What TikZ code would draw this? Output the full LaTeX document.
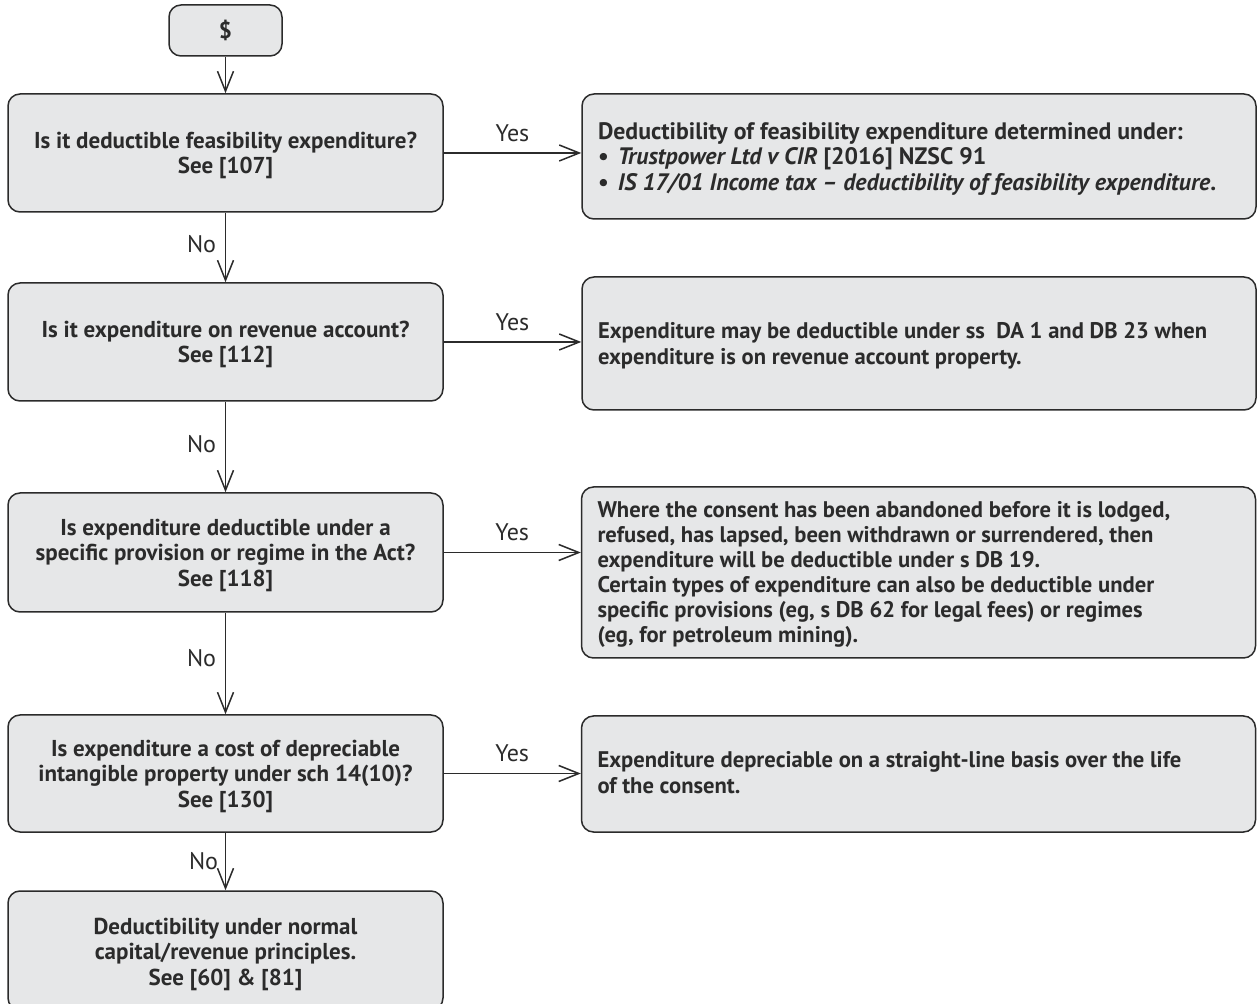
\documentclass[tikz,border=0pt]{standalone}
\usepackage{fontspec}
\setmainfont{PT Sans}
\usetikzlibrary{arrows.meta,calc}
\definecolor{boxfill}{HTML}{E6E7E8}
\definecolor{linec}{HTML}{2B2B2B}
\newcommand{\cbx}[2]{\raisebox{-#1}[\height][\depth]{\begin{tabular}{@{}c@{}}#2\end{tabular}}}
\newcommand{\lbx}[2]{\makebox[321pt][l]{\raisebox{-#1}[\height][\depth]{\begin{tabular}{@{}l@{}}#2\end{tabular}}}}
\begin{document}
\begin{tikzpicture}[x=0.5pt,y=-0.5pt,
  base/.style={draw=linec, fill=boxfill, rounded corners=6pt, line width=0.75pt, inner sep=0pt,
    font=\fontsize{11.5pt}{12.8pt}\selectfont\bfseries, text=linec},
  lbox/.style={base, minimum width=217.5pt},
  rbox/.style={base, minimum width=337pt, inner xsep=8pt,
    font=\fontsize{11.3pt}{12.5pt}\selectfont\bfseries},
  conn/.style={draw=linec, line width=0.75pt, -{Straight Barb[length=10pt,width=8pt,line width=0.75pt]}},
  lab/.style={font=\fontsize{12pt}{13pt}\selectfont, text=linec}
]
\useasboundingbox (0,0) rectangle (1258,1004);

\node[base, minimum width=56.5pt, minimum height=25.5pt] (s) at (225.5,30.5) {\$};

\node[lbox, minimum height=59pt] (b1) at (225.5,153) {\cbx{1.5pt}{Is it deductible feasibility expenditure?\\See [107]}};
\node[lbox, minimum height=59pt] (b2) at (225.5,342) {\cbx{1.5pt}{Is it expenditure on revenue account?\\See [112]}};
\node[lbox, minimum height=59.5pt] (b3) at (225.5,552.5) {\cbx{1.5pt}{Is expenditure deductible under a\\specific provision or regime in the Act?\\See [118]}};
\node[lbox, minimum height=58.5pt] (b4) at (225.5,773.5) {\cbx{1.5pt}{Is expenditure a cost of depreciable\\intangible property under sch 14(10)?\\See [130]}};
\node[lbox, minimum height=59.5pt] (b5) at (225.5,950.5) {\cbx{2pt}{Deductibility under normal\\capital/revenue principles.\\See [60] \& [81]}};

\node[rbox, minimum height=62.5pt, font=\fontsize{11.9pt}{12.75pt}\selectfont\bfseries] (r1) at (919,156.5) {\lbx{1.5pt}{Deductibility of feasibility expenditure determined under:\\
\textbullet\hspace{4.5pt}\textit{Trustpower Ltd v CIR} [2016] NZSC 91\\
\textbullet\hspace{4.5pt}\textit{IS 17/01 Income tax – deductibility of feasibility expenditure}.}};
\node[rbox, minimum height=66.5pt, font=\fontsize{11.3pt}{12.6pt}\selectfont\bfseries] (r2) at (919,343.5) {\lbx{1.5pt}{Expenditure may be deductible under ss\ \ DA 1 and DB 23 when\\expenditure is on revenue account property.}};
\node[rbox, minimum height=85.5pt] (r3) at (918.5,572.5) {\lbx{1.5pt}{Where the consent has been abandoned before it is lodged,\\refused, has lapsed, been withdrawn or surrendered, then\\expenditure will be deductible under s DB 19.\\Certain types of expenditure can also be deductible under\\specific provisions (eg, s DB 62 for legal fees) or regimes\\(eg, for petroleum mining).}};
\node[rbox, minimum height=58pt, font=\fontsize{11.3pt}{13.2pt}\selectfont\bfseries] (r4) at (918.5,774) {\lbx{0.5pt}{Expenditure depreciable on a straight-line basis over the life\\of the consent.}};

\draw[conn] (s) -- (b1);
\draw[conn] (b1) -- node[lab, left=1pt, pos=0.45] (n1) {No} (b2);
\draw[conn] (b2) -- node[lab, left=1pt, pos=0.47] (n2) {No} (b3);
\draw[conn] (b3) -- node[lab, left=1pt, pos=0.45] (n3) {No} (b4);
\draw[conn] (b4) -- node[lab, left=0pt, pos=0.5] (n4) {No} (b5);

\draw[conn] (b1.east) -- node[lab, above=2pt] (y1) {Yes} (b1.east -| r1.west);
\draw[conn] (b2.east) -- node[lab, above=2pt] (y2) {Yes} (b2.east -| r2.west);
\draw[conn] (b3.east) -- node[lab, above=2pt] (y3) {Yes} (b3.east -| r3.west);
\draw[conn] (b4.east) -- node[lab, above=2pt] (y4) {Yes} (b4.east -| r4.west);
\end{tikzpicture}
\end{document}
